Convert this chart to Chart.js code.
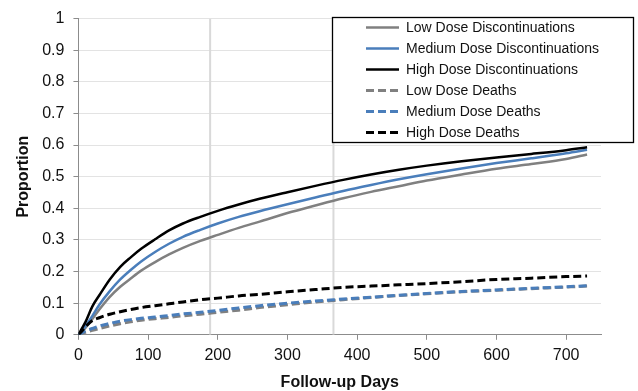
<!DOCTYPE html>
<html>
<head>
<meta charset="utf-8">
<script src="https://cdn.jsdelivr.net/npm/chart.js@4/dist/chart.umd.min.js"></script>
<style>
html,body{margin:0;padding:0;background:#fff;}
#wrap{width:638px;height:391px;position:relative;}
</style>
</head>
<body>
<div id="wrap"><canvas id="c" width="638" height="391"></canvas></div>
<script>
// ---- data ----
const days = [0,5,10,20,30,45,60,75,90,110,130,150,175,200,230,260,300,340,380,420,460,500,550,600,650,700,730];

const lowDisc  = [0,0.01,0.022,0.05,0.08,0.12,0.152,0.178,0.203,0.23,0.254,0.275,0.297,0.316,0.338,0.358,0.385,0.409,0.432,0.452,0.470,0.488,0.507,0.525,0.540,0.556,0.570];
const medDisc  = [0,0.014,0.028,0.06,0.095,0.138,0.175,0.205,0.232,0.262,0.288,0.31,0.332,0.352,0.373,0.391,0.413,0.434,0.455,0.474,0.492,0.508,0.526,0.543,0.558,0.574,0.585];
const highDisc = [0,0.02,0.04,0.09,0.125,0.175,0.215,0.245,0.272,0.302,0.33,0.352,0.373,0.392,0.412,0.430,0.451,0.471,0.490,0.507,0.522,0.535,0.549,0.561,0.572,0.584,0.593];

const lowDeath  = [0,0.004,0.008,0.014,0.02,0.028,0.035,0.041,0.046,0.051,0.055,0.06,0.065,0.071,0.078,0.086,0.095,0.104,0.111,0.118,0.124,0.130,0.136,0.141,0.146,0.151,0.154];
const medDeath  = [0,0.006,0.012,0.02,0.028,0.036,0.043,0.048,0.052,0.056,0.061,0.066,0.071,0.077,0.085,0.092,0.100,0.107,0.113,0.119,0.125,0.131,0.137,0.142,0.147,0.152,0.155];
const highDeath = [0,0.012,0.025,0.045,0.054,0.065,0.073,0.08,0.086,0.092,0.098,0.104,0.111,0.116,0.123,0.128,0.136,0.143,0.150,0.154,0.158,0.162,0.168,0.175,0.179,0.184,0.186];

const seriesLabels = ["Low Dose Discontinuations","Medium Dose Discontinuations","High Dose Discontinuations","Low Dose Deaths","Medium Dose Deaths","High Dose Deaths"];
const refDays = [189, 366];
const yTicks = [0,0.1,0.2,0.3,0.4,0.5,0.6,0.7,0.8,0.9,1];
const xTicks = [0,100,200,300,400,500,600,700];

// ---- styles ----
const FONT = '"Liberation Sans", Arial, sans-serif';
const GRAY = '#808080', BLUE = '#4a7ebb', BLACK = '#000000';
const seriesValues = [lowDisc, medDisc, highDisc, lowDeath, medDeath, highDeath];
const seriesColors = [GRAY, BLUE, BLACK, GRAY, BLUE, BLACK];
const seriesDash = [[],[],[],[8,4],[8,4],[8,4]];

const datasets = seriesValues.map((vals, i) => ({
  label: seriesLabels[i],
  data: vals.map((v, k) => ({x: days[k], y: v})),
  borderColor: seriesColors[i],
  borderWidth: i < 3 ? 2.5 : 3,
  borderDash: seriesDash[i],
  pointRadius: 0,
  fill: false,
  cubicInterpolationMode: 'monotone',
  order: 10 - i
}));
refDays.forEach(d => datasets.push({
  label: '_ref',
  data: [{x: d, y: 0}, {x: d, y: 1}],
  borderColor: '#d9d9d9',
  borderWidth: 2,
  pointRadius: 0,
  order: 100
}));

const legendPlugin = {
  id: 'boxLegend',
  afterDraw(chart) {
    const ctx = chart.ctx;
    const x0 = 332.5, y0 = 17.5, w = 301, h = 125;
    ctx.save();
    ctx.fillStyle = '#fff';
    ctx.fillRect(x0, y0, w, h);
    ctx.strokeStyle = '#000';
    ctx.lineWidth = 1.3;
    ctx.strokeRect(x0, y0, w, h);
    ctx.font = '14px ' + FONT;
    ctx.textBaseline = 'middle';
    ctx.textAlign = 'left';
    for (let i = 0; i < seriesLabels.length; i++) {
      const ds = chart.data.datasets[i];
      const y = 27.5 + i * 21;
      ctx.beginPath();
      ctx.strokeStyle = ds.borderColor;
      ctx.lineWidth = ds.borderWidth;
      ctx.setLineDash(ds.borderDash || []);
      ctx.moveTo(366, y);
      ctx.lineTo(399, y);
      ctx.stroke();
      ctx.setLineDash([]);
      ctx.fillStyle = '#111';
      ctx.fillText(seriesLabels[i], 406, y + 0.5);
    }
    ctx.restore();
  }
};

new Chart(document.getElementById('c'), {
  type: 'line',
  data: { datasets },
  plugins: [legendPlugin],
  options: {
    responsive: false,
    animation: false,
    layout: { padding: { left: 10, right: 37, top: 7, bottom: 0 } },
    plugins: { legend: { display: false }, tooltip: { enabled: false } },
    scales: {
      x: {
        type: 'linear',
        min: 0, max: 750,
        afterBuildTicks: s => { s.ticks = xTicks.map(v => ({value: v})); },
        grid: { drawOnChartArea: false, drawTicks: true, tickLength: 5, color: '#8c8c8c', tickColor: '#8c8c8c' },
        border: { color: '#8c8c8c', width: 1 },
        ticks: { font: { family: FONT, size: 16 }, color: '#111', padding: 6, maxRotation: 0, autoSkip: false },
        title: { display: true, text: 'Follow-up Days', font: { family: FONT, size: 16, weight: 'bold', lineHeight: 1.0 }, color: '#111', padding: { top: 4, bottom: 0 } }
      },
      y: {
        type: 'linear',
        min: 0, max: 1,
        afterBuildTicks: s => { s.ticks = yTicks.map(v => ({value: v})); },
        grid: { color: '#e3e3e3', lineWidth: 1, drawTicks: true, tickLength: 5, tickColor: '#8c8c8c' },
        border: { color: '#8c8c8c', width: 1 },
        ticks: { font: { family: FONT, size: 16 }, color: '#111', padding: 9, callback: v => String(Number(v.toFixed(1))) },
        title: { display: true, text: 'Proportion', font: { family: FONT, size: 16, weight: 'bold' }, color: '#111', padding: { top: 4, bottom: 0 } }
      }
    }
  }
});
</script>
</body>
</html>
